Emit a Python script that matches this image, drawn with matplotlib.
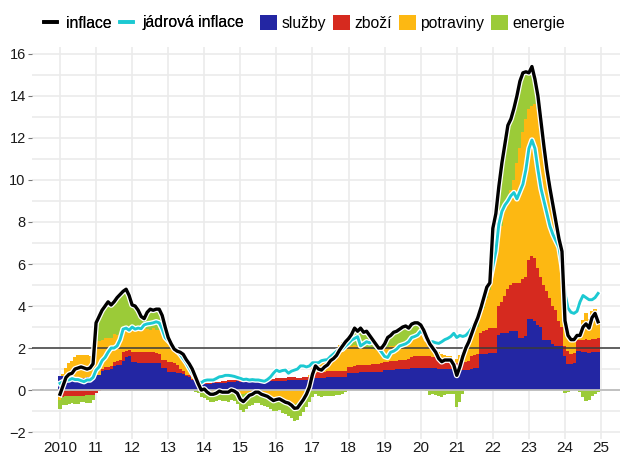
import numpy as np
import matplotlib
matplotlib.use("Agg")
import matplotlib.pyplot as plt
import matplotlib.patheffects as pe
from matplotlib.patches import Patch
from matplotlib.lines import Line2D

plt.rcParams['font.family'] = ['Liberation Sans', 'DejaVu Sans']

# ---------------- data (monthly, Jan 2010 - Dec 2024) ----------------
start_year = 2010
year_ticks = list(range(2010, 2026))
year_labels = ['2010'] + [f'{y % 100:02d}' for y in range(2011, 2026)]
y_ticks = list(range(-2, 17, 2))

services = [
    0.65, 0.65, 0.62, 0.60, 0.60, 0.60, 0.58, 0.58, 0.58, 0.60, 0.60, 0.62,  # 2010
    0.70, 0.72, 0.90, 0.95, 0.95, 1.00, 1.15, 1.20, 1.20, 1.40, 1.55, 1.60,  # 2011
    1.35, 1.35, 1.30, 1.30, 1.30, 1.30, 1.30, 1.30, 1.30, 1.27, 1.05, 1.03,  # 2012
    0.88, 0.87, 0.86, 0.80, 0.80, 0.78, 0.65, 0.63, 0.50, 0.48, 0.30, 0.25,  # 2013
    0.30, 0.30, 0.30, 0.32, 0.32, 0.35, 0.35, 0.35, 0.38, 0.40, 0.40, 0.42,  # 2014
    0.40, 0.40, 0.40, 0.42, 0.42, 0.42, 0.42, 0.42, 0.40, 0.40, 0.42, 0.42,  # 2015
    0.45, 0.45, 0.45, 0.45, 0.48, 0.48, 0.48, 0.48, 0.48, 0.50, 0.50, 0.50,  # 2016
    0.55, 0.55, 0.55, 0.55, 0.58, 0.60, 0.60, 0.62, 0.62, 0.63, 0.63, 0.63,  # 2017
    0.80, 0.80, 0.82, 0.82, 0.85, 0.85, 0.85, 0.85, 0.87, 0.87, 0.87, 0.87,  # 2018
    0.95, 0.95, 0.97, 0.97, 1.00, 1.00, 1.00, 1.00, 1.00, 1.03, 1.03, 1.03,  # 2019
    1.03, 1.03, 1.03, 1.03, 1.03, 1.03, 1.00, 1.00, 1.00, 1.00, 1.00, 1.00,  # 2020
    0.95, 0.95, 0.95, 0.95, 0.95, 1.00, 1.05, 1.05, 1.70, 1.70, 1.72, 1.75,  # 2021
    1.75, 1.75, 2.60, 2.70, 2.70, 2.70, 2.80, 2.80, 2.80, 2.50, 2.50, 2.55,  # 2022
    3.40, 3.40, 3.30, 3.10, 3.00, 2.40, 2.40, 2.40, 2.20, 2.10, 2.10, 2.10,  # 2023
    1.60, 1.25, 1.25, 1.30, 1.85, 1.85, 1.80, 1.80, 1.75, 1.80, 1.80, 1.80,  # 2024
]
goods = [
    -0.30, -0.32, -0.30, -0.30, -0.28, -0.28, -0.30, -0.28, -0.26, -0.25, -0.25, -0.24,
    -0.15, -0.05, 0.10, 0.15, 0.15, 0.15, 0.20, 0.20, 0.25, 0.40, 0.30, 0.30,
    0.45, 0.45, 0.50, 0.50, 0.50, 0.50, 0.50, 0.50, 0.45, 0.45, 0.40, 0.40,
    0.45, 0.45, 0.45, 0.40, 0.20, 0.15, 0.08, 0.07, 0.03, 0.02, 0.00, 0.00,
    0.05, 0.05, 0.05, 0.05, 0.05, 0.05, 0.08, 0.08, 0.08, 0.08, 0.08, 0.08,
    0.08, 0.08, 0.08, 0.08, 0.10, 0.10, 0.10, 0.10, 0.10, 0.10, 0.10, 0.10,
    0.10, 0.10, 0.12, 0.12, 0.12, 0.12, 0.12, 0.10, 0.10, 0.10, 0.12, 0.12,
    0.25, 0.28, 0.30, 0.30, 0.30, 0.30, 0.30, 0.30, 0.30, 0.30, 0.30, 0.30,
    0.30, 0.32, 0.32, 0.35, 0.35, 0.35, 0.35, 0.35, 0.35, 0.35, 0.35, 0.40,
    0.40, 0.40, 0.40, 0.40, 0.40, 0.42, 0.42, 0.45, 0.50, 0.55, 0.60, 0.60,
    0.60, 0.60, 0.60, 0.60, 0.55, 0.55, 0.50, 0.50, 0.50, 0.45, 0.45, 0.40,
    0.35, 0.35, 0.35, 0.40, 0.45, 0.60, 0.62, 0.65, 1.00, 1.10, 1.15, 1.20,
    1.20, 1.20, 1.40, 1.50, 1.80, 2.10, 2.20, 2.30, 2.30, 2.60, 2.80, 2.85,
    2.80, 3.00, 3.00, 2.70, 2.40, 2.60, 2.30, 2.00, 1.80, 1.70, 1.20, 0.90,
    0.50, 0.60, 0.45, 0.45, 0.55, 0.55, 0.60, 0.65, 0.65, 0.65, 0.65, 0.70,
]
food = [
    -0.15, 0.10, 0.45, 0.70, 0.80, 0.95, 1.10, 1.10, 1.10, 1.05, 1.00, 1.00,
    1.65, 1.60, 1.40, 1.40, 1.40, 1.35, 1.30, 1.20, 1.15, 1.00, 1.00, 1.00,
    1.10, 1.15, 1.05, 1.10, 1.15, 1.10, 1.05, 1.15, 1.10, 1.15, 1.25, 1.25,
    0.87, 0.73, 0.64, 0.60, 0.70, 0.72, 0.67, 0.55, 0.47, 0.25, 0.15, 0.10,
    0.10, 0.00, -0.05, -0.10, -0.10, -0.05, -0.10, -0.15, -0.15, -0.15, -0.10, -0.05,
    -0.20, -0.20, -0.15, -0.10, -0.10, -0.10, -0.10, -0.15, -0.20, -0.25, -0.30, -0.35,
    -0.35, -0.30, -0.40, -0.50, -0.55, -0.60, -0.65, -0.60, -0.50, -0.45, -0.20, 0.10,
    0.30, 0.52, 0.45, 0.45, 0.52, 0.60, 0.80, 0.88, 0.98, 1.22, 1.37, 1.47,
    1.05, 1.00, 1.00, 0.95, 0.95, 0.90, 0.85, 0.80, 0.75, 0.70, 0.65, 0.60,
    0.65, 0.70, 0.75, 0.75, 0.75, 0.75, 0.75, 0.75, 0.80, 0.85, 0.90, 0.95,
    1.00, 0.95, 0.90, 0.80, 0.60, 0.45, 0.30, 0.20, 0.15, 0.15, 0.15, 0.00,
    0.20, 0.35, 0.50, 0.65, 0.80, 0.90, 1.08, 1.30, 0.90, 1.10, 1.53, 1.80,
    3.36, 3.66, 3.00, 3.60, 4.00, 4.30, 4.50, 4.90, 5.70, 6.40, 7.00, 7.50,
    7.20, 7.10, 7.30, 7.60, 6.90, 6.20, 5.50, 5.10, 4.80, 4.10, 3.70, 3.40,
    1.35, 0.85, 0.70, 0.65, 0.20, 0.30, 0.95, 1.20, 1.00, 1.30, 1.40, 0.85,
]
energy = [
    -0.45, -0.40, -0.40, -0.35, -0.35, -0.40, -0.35, -0.30, -0.30, -0.35, -0.35, -0.25,
    0.85, 1.20, 1.40, 1.50, 1.70, 1.55, 1.55, 1.80, 1.90, 1.85, 1.95, 1.60,
    1.15, 1.10, 0.90, 0.60, 0.50, 0.80, 0.95, 0.90, 0.95, 1.00, 0.85, 0.30,
    0.30, 0.15, 0.00, 0.05, 0.10, 0.05, 0.05, 0.00, 0.00, -0.10, -0.15, -0.35,
    -0.40, -0.45, -0.50, -0.47, -0.42, -0.40, -0.43, -0.38, -0.41, -0.33, -0.43, -0.60,
    -0.73, -0.83, -0.73, -0.65, -0.62, -0.52, -0.52, -0.57, -0.55, -0.55, -0.62, -0.67,
    -0.65, -0.67, -0.67, -0.65, -0.67, -0.72, -0.82, -0.83, -0.73, -0.60, -0.60, -0.55,
    -0.35, -0.20, -0.30, -0.35, -0.30, -0.30, -0.30, -0.30, -0.25, -0.25, -0.20, -0.10,
    0.30, 0.53, 0.81, 0.68, 0.80, 0.65, 0.75, 0.60, 0.43, 0.28, 0.13, 0.13,
    0.20, 0.45, 0.48, 0.63, 0.65, 0.73, 0.83, 0.85, 0.65, 0.71, 0.67, 0.62,
    0.47, 0.27, -0.03, -0.23, -0.18, -0.23, -0.30, -0.35, -0.22, -0.17, -0.17, -0.20,
    -0.80, -0.55, -0.20, 0.00, 0.10, 0.20, 0.35, 0.45, 0.30, 0.50, 0.50, 0.35,
    1.40, 1.80, 2.70, 3.00, 3.20, 3.50, 3.40, 3.40, 3.20, 3.20, 2.80, 2.25,
    1.70, 1.90, 1.20, 0.60, 0.50, 0.40, 0.30, 0.10, 0.00, 0.10, 0.20, 0.20,
    -0.15, -0.10, 0.00, 0.00, 0.00, -0.10, -0.35, -0.50, -0.45, -0.30, -0.20, -0.10,
]
inflation = [
    -0.20, 0.20, 0.60, 0.75, 0.80, 1.00, 1.05, 1.10, 1.05, 1.00, 1.05, 1.25,
    3.20, 3.50, 3.80, 4.00, 4.20, 4.05, 4.20, 4.40, 4.55, 4.70, 4.80, 4.50,
    4.05, 4.00, 3.80, 3.50, 3.40, 3.70, 3.85, 3.80, 3.85, 3.85, 3.55, 3.00,
    2.50, 2.20, 1.95, 1.85, 1.80, 1.70, 1.45, 1.25, 1.00, 0.65, 0.30, 0.00,
    0.05, -0.10, -0.20, -0.20, -0.15, -0.05, -0.10, -0.10, -0.10, 0.00, -0.05, -0.15,
    -0.45, -0.55, -0.40, -0.25, -0.20, -0.10, -0.10, -0.20, -0.25, -0.30, -0.40, -0.50,
    -0.45, -0.42, -0.50, -0.58, -0.62, -0.72, -0.87, -0.85, -0.65, -0.45, -0.20, 0.15,
    0.75, 1.15, 1.00, 0.95, 1.10, 1.20, 1.40, 1.50, 1.65, 1.90, 2.10, 2.30,
    2.45, 2.65, 2.95, 2.80, 2.95, 2.75, 2.80, 2.60, 2.40, 2.20, 2.00, 2.00,
    2.20, 2.50, 2.60, 2.75, 2.80, 2.90, 3.00, 3.05, 2.95, 3.14, 3.20, 3.20,
    3.10, 2.85, 2.50, 2.20, 2.00, 1.80, 1.50, 1.35, 1.43, 1.43, 1.43, 1.20,
    0.70, 1.10, 1.60, 2.00, 2.30, 2.70, 3.10, 3.45, 3.90, 4.40, 4.90, 5.10,
    7.70, 8.40, 9.70, 10.80, 11.70, 12.60, 12.90, 13.40, 14.00, 14.70, 15.10, 15.15,
    15.10, 15.40, 14.80, 14.00, 12.80, 11.60, 10.50, 9.60, 8.80, 8.00, 7.20, 6.60,
    3.30, 2.60, 2.40, 2.40, 2.60, 2.60, 3.00, 3.15, 2.95, 3.45, 3.65, 3.25,
]
core = [
    0.32, 0.40, 0.48, 0.48, 0.55, 0.50, 0.50, 0.45, 0.40, 0.48, 0.48, 0.60,
    0.95, 1.10, 1.40, 1.55, 1.80, 2.00, 2.00, 2.10, 2.40, 2.90, 2.95, 2.85,
    3.00, 2.90, 2.95, 2.92, 3.10, 3.15, 3.17, 3.20, 3.25, 3.20, 2.90, 2.50,
    2.35, 2.20, 2.05, 1.85, 1.70, 1.50, 1.30, 1.05, 0.80, 0.60, 0.40, 0.35,
    0.45, 0.48, 0.48, 0.48, 0.55, 0.63, 0.65, 0.70, 0.70, 0.68, 0.65, 0.60,
    0.56, 0.50, 0.52, 0.48, 0.50, 0.48, 0.48, 0.45, 0.42, 0.50, 0.62, 0.80,
    0.95, 0.88, 0.93, 0.95, 0.80, 0.90, 0.95, 1.00, 1.15, 1.15, 1.10, 1.15,
    1.30, 1.30, 1.30, 1.40, 1.43, 1.45, 1.60, 1.72, 1.85, 1.90, 1.95, 2.10,
    2.22, 2.38, 2.46, 2.54, 2.10, 2.20, 2.30, 2.25, 2.35, 2.15, 2.00, 1.80,
    1.60, 1.55, 1.80, 1.85, 1.95, 2.10, 2.15, 2.20, 2.30, 2.50, 2.55, 2.62,
    2.80, 2.70, 2.40, 2.30, 2.30, 2.25, 2.22, 2.30, 2.40, 2.46, 2.55, 2.70,
    2.50, 2.60, 2.55, 2.60, 2.75, 2.95, 3.20, 3.55, 3.90, 4.40, 4.85, 5.20,
    5.90, 6.60, 7.90, 8.50, 8.80, 9.00, 9.25, 9.40, 9.10, 9.45, 9.80, 10.50,
    11.50, 11.90, 11.50, 10.50, 9.60, 9.00, 8.40, 7.80, 7.40, 7.10, 6.80, 5.90,
    4.60, 3.90, 3.70, 3.65, 3.75, 4.20, 4.50, 4.40, 4.30, 4.30, 4.40, 4.60,
]

comp_names = ['služby', 'zboží', 'potraviny', 'energie']
comp_colors = ['#2326a3', '#d62a1f', '#fdb812', '#9bcb38']
line_names = ['inflace', 'jádrová inflace']
black = '#000000'
cyan = '#1cc9d2'

# ---------------- figure ----------------
W, H = 620, 454
fig = plt.figure(figsize=(W / 100, H / 100), dpi=100)
ax = fig.add_axes([32 / W, 1 - 439 / H, (W - 32) / W, (439 - 47) / H])

n = len(inflation)
x = start_year + np.arange(n) / 12.0
comps = np.array([services, goods, food, energy])
pos = np.clip(comps, 0, None)
neg = np.clip(comps, None, 0)
pos_bot = np.vstack([np.zeros(n), np.cumsum(pos, axis=0)[:-1]])
neg_bot = np.vstack([np.zeros(n), np.cumsum(neg, axis=0)[:-1]])

bw = 1 / 12 * 1.04
for k in range(4):
    ax.bar(x, pos[k], width=bw, bottom=pos_bot[k], color=comp_colors[k],
           linewidth=0, zorder=2)
    ax.bar(x, neg[k], width=bw, bottom=neg_bot[k], color=comp_colors[k],
           linewidth=0, zorder=2)

ax.axhline(0, color='#bdbdbd', lw=1.3, zorder=3)
ax.axhline(2, color='#3a3a3a', lw=1.1, zorder=3)

ax.plot(x, core, color=cyan, lw=2.1, zorder=4, solid_joinstyle='round',
        path_effects=[pe.Stroke(linewidth=4.0, foreground='white'), pe.Normal()])
ax.plot(x, inflation, color=black, lw=2.4, zorder=5, solid_joinstyle='round',
        path_effects=[pe.Stroke(linewidth=4.2, foreground='white'), pe.Normal()])

ax.set_xlim(2009.224, 2025.525)
ax.set_ylim(-2.33, 16.33)
ax.set_xticks(year_ticks)
ax.set_xticklabels(year_labels)
ax.set_yticks(y_ticks)
ax.set_yticks(list(range(-1, 17, 2)), minor=True)
ax.grid(which='both', axis='y', color='#ebebeb', lw=1.2, zorder=0)
ax.grid(which='major', axis='x', color='#ebebeb', lw=1.2, zorder=0)
ax.set_axisbelow(True)
for s in ax.spines.values():
    s.set_visible(False)
ax.tick_params(axis='y', which='major', length=3, width=0.8, color='#777777',
               labelsize=10.5, pad=1.5, labelcolor='#1a1a1a')
ax.tick_params(axis='y', which='minor', length=0)
ax.tick_params(axis='x', length=0, labelsize=11, pad=1.5, labelcolor='#1a1a1a')

# legends
fs = 11.3
lh = [Line2D([], [], color=black, lw=2.6), Line2D([], [], color=cyan, lw=2.6)]
leg1 = fig.legend(lh, line_names, ncol=2, loc='center left',
                  bbox_to_anchor=(44 / W, 1 - 23 / H), frameon=False,
                  handlelength=0.8, handletextpad=0.6, columnspacing=0.55,
                  fontsize=fs, borderaxespad=0, borderpad=0)
ph = [Patch(facecolor=c, edgecolor='none') for c in comp_colors]
leg2 = fig.legend(ph, comp_names, ncol=4, loc='center left',
                  bbox_to_anchor=(260 / W, 1 - 23 / H), frameon=False,
                  handlelength=1.1, handleheight=1.1, handletextpad=0.3,
                  columnspacing=0.4, fontsize=fs, borderaxespad=0, borderpad=0)
fig.add_artist(leg1)

fig.savefig('out.png', dpi=100)
